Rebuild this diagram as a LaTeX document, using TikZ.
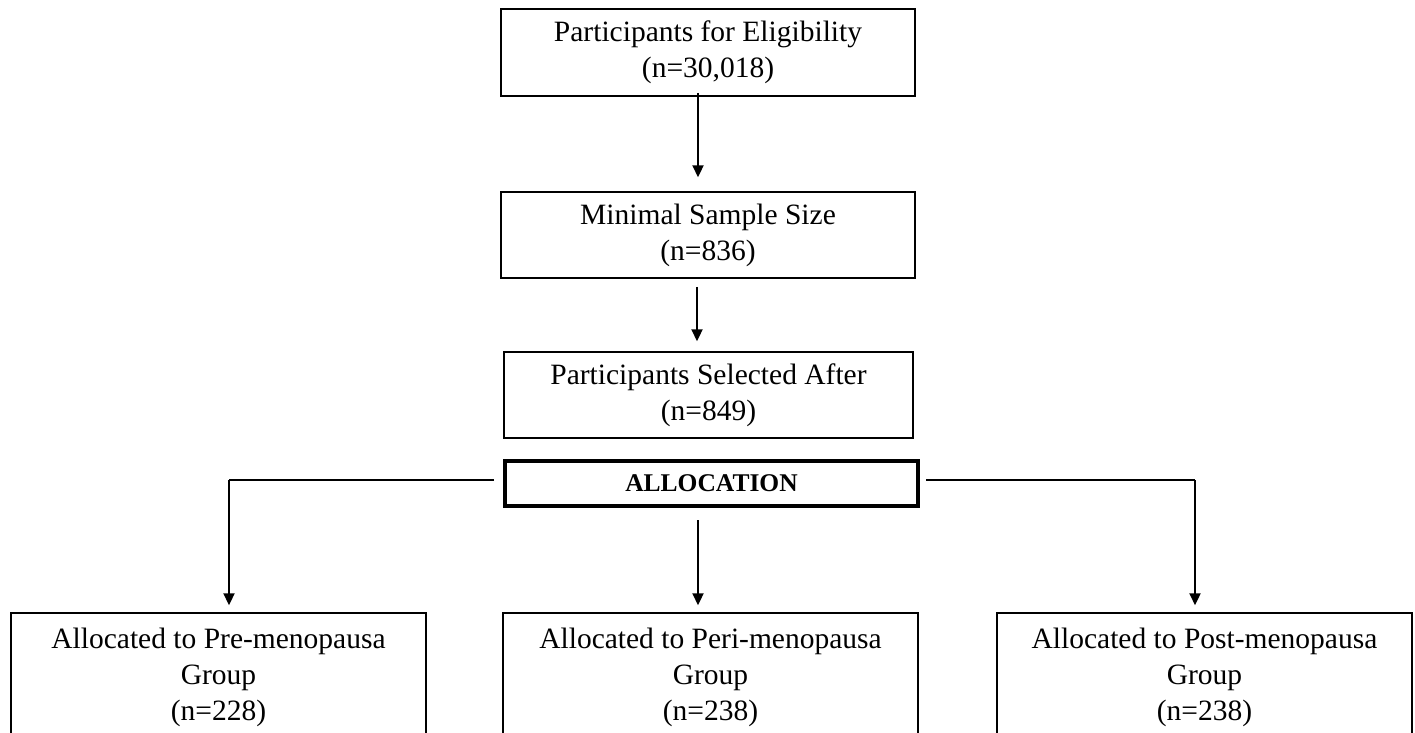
\documentclass[tikz,border=0pt]{standalone}
\usepackage{fontspec}
\setmainfont{Liberation Serif}
\usetikzlibrary{arrows.meta}
\begin{document}
\begin{tikzpicture}[x=1pt,y=-1pt,
  box/.style={draw=black,line width=1.5pt,rectangle,inner sep=0pt,align=center,
    minimum width=414pt,minimum height=86pt,
    font=\fontsize{29.5}{36}\selectfont},
  gbox/.style={box,minimum width=415pt,minimum height=128pt},
  allocbox/.style={draw=black,line width=4pt,rectangle,inner sep=0pt,
    minimum width=413pt,minimum height=45pt,
    font=\fontsize{25.5}{30}\selectfont\bfseries},
  arr/.style={line width=2.2pt,-{Triangle[length=12pt,width=11pt]}},
  hline/.style={line width=1.5pt}
]
\clip (0,0) rectangle (1415,732);
\fill[white] (0,0) rectangle (1415,732);

\node[box,minimum height=87pt] (n1) at (708,52.5) {Participants for Eligibility\\(n=30,018)};
\node[box] (n2) at (708,235) {Minimal Sample Size\\(n=836)};
\node[box,minimum width=409pt] (n3) at (708.5,395) {Participants Selected After\\(n=849)};
\node[allocbox] (alloc) at (711.5,483.5) {ALLOCATION};

\node[gbox] (b1) at (218.5,677) {Allocated to Pre-menopausa\\Group\\(n=228)};
\node[gbox] (b2) at (710.5,677) {Allocated to Peri-menopausa\\Group\\(n=238)};
\node[gbox] (b3) at (1204.5,677) {Allocated to Post-menopausa\\Group\\(n=238)};

\draw[arr] ([xshift=-10pt,yshift=4pt]n1.south) -- ([xshift=-10pt,yshift=14pt]n2.north);
\draw[arr] ([xshift=-11pt,yshift=-8pt]n2.south) -- ([xshift=-11.5pt,yshift=10pt]n3.north);

\coordinate (lc) at (229,480);
\coordinate (rc) at (1195,480);
\draw[hline] ([xshift=-9pt,yshift=3.5pt]alloc.west) -- (lc);
\draw[arr] (lc) -- ([xshift=10.5pt,yshift=7pt]b1.north);
\draw[hline] ([xshift=6pt,yshift=3.5pt]alloc.east) -- (rc);
\draw[arr] (rc) -- ([xshift=-9.5pt,yshift=7pt]b3.north);
\draw[arr] ([xshift=-13.5pt,yshift=-12pt]alloc.south) -- ([xshift=-12.5pt,yshift=7pt]b2.north);
\end{tikzpicture}
\end{document}
